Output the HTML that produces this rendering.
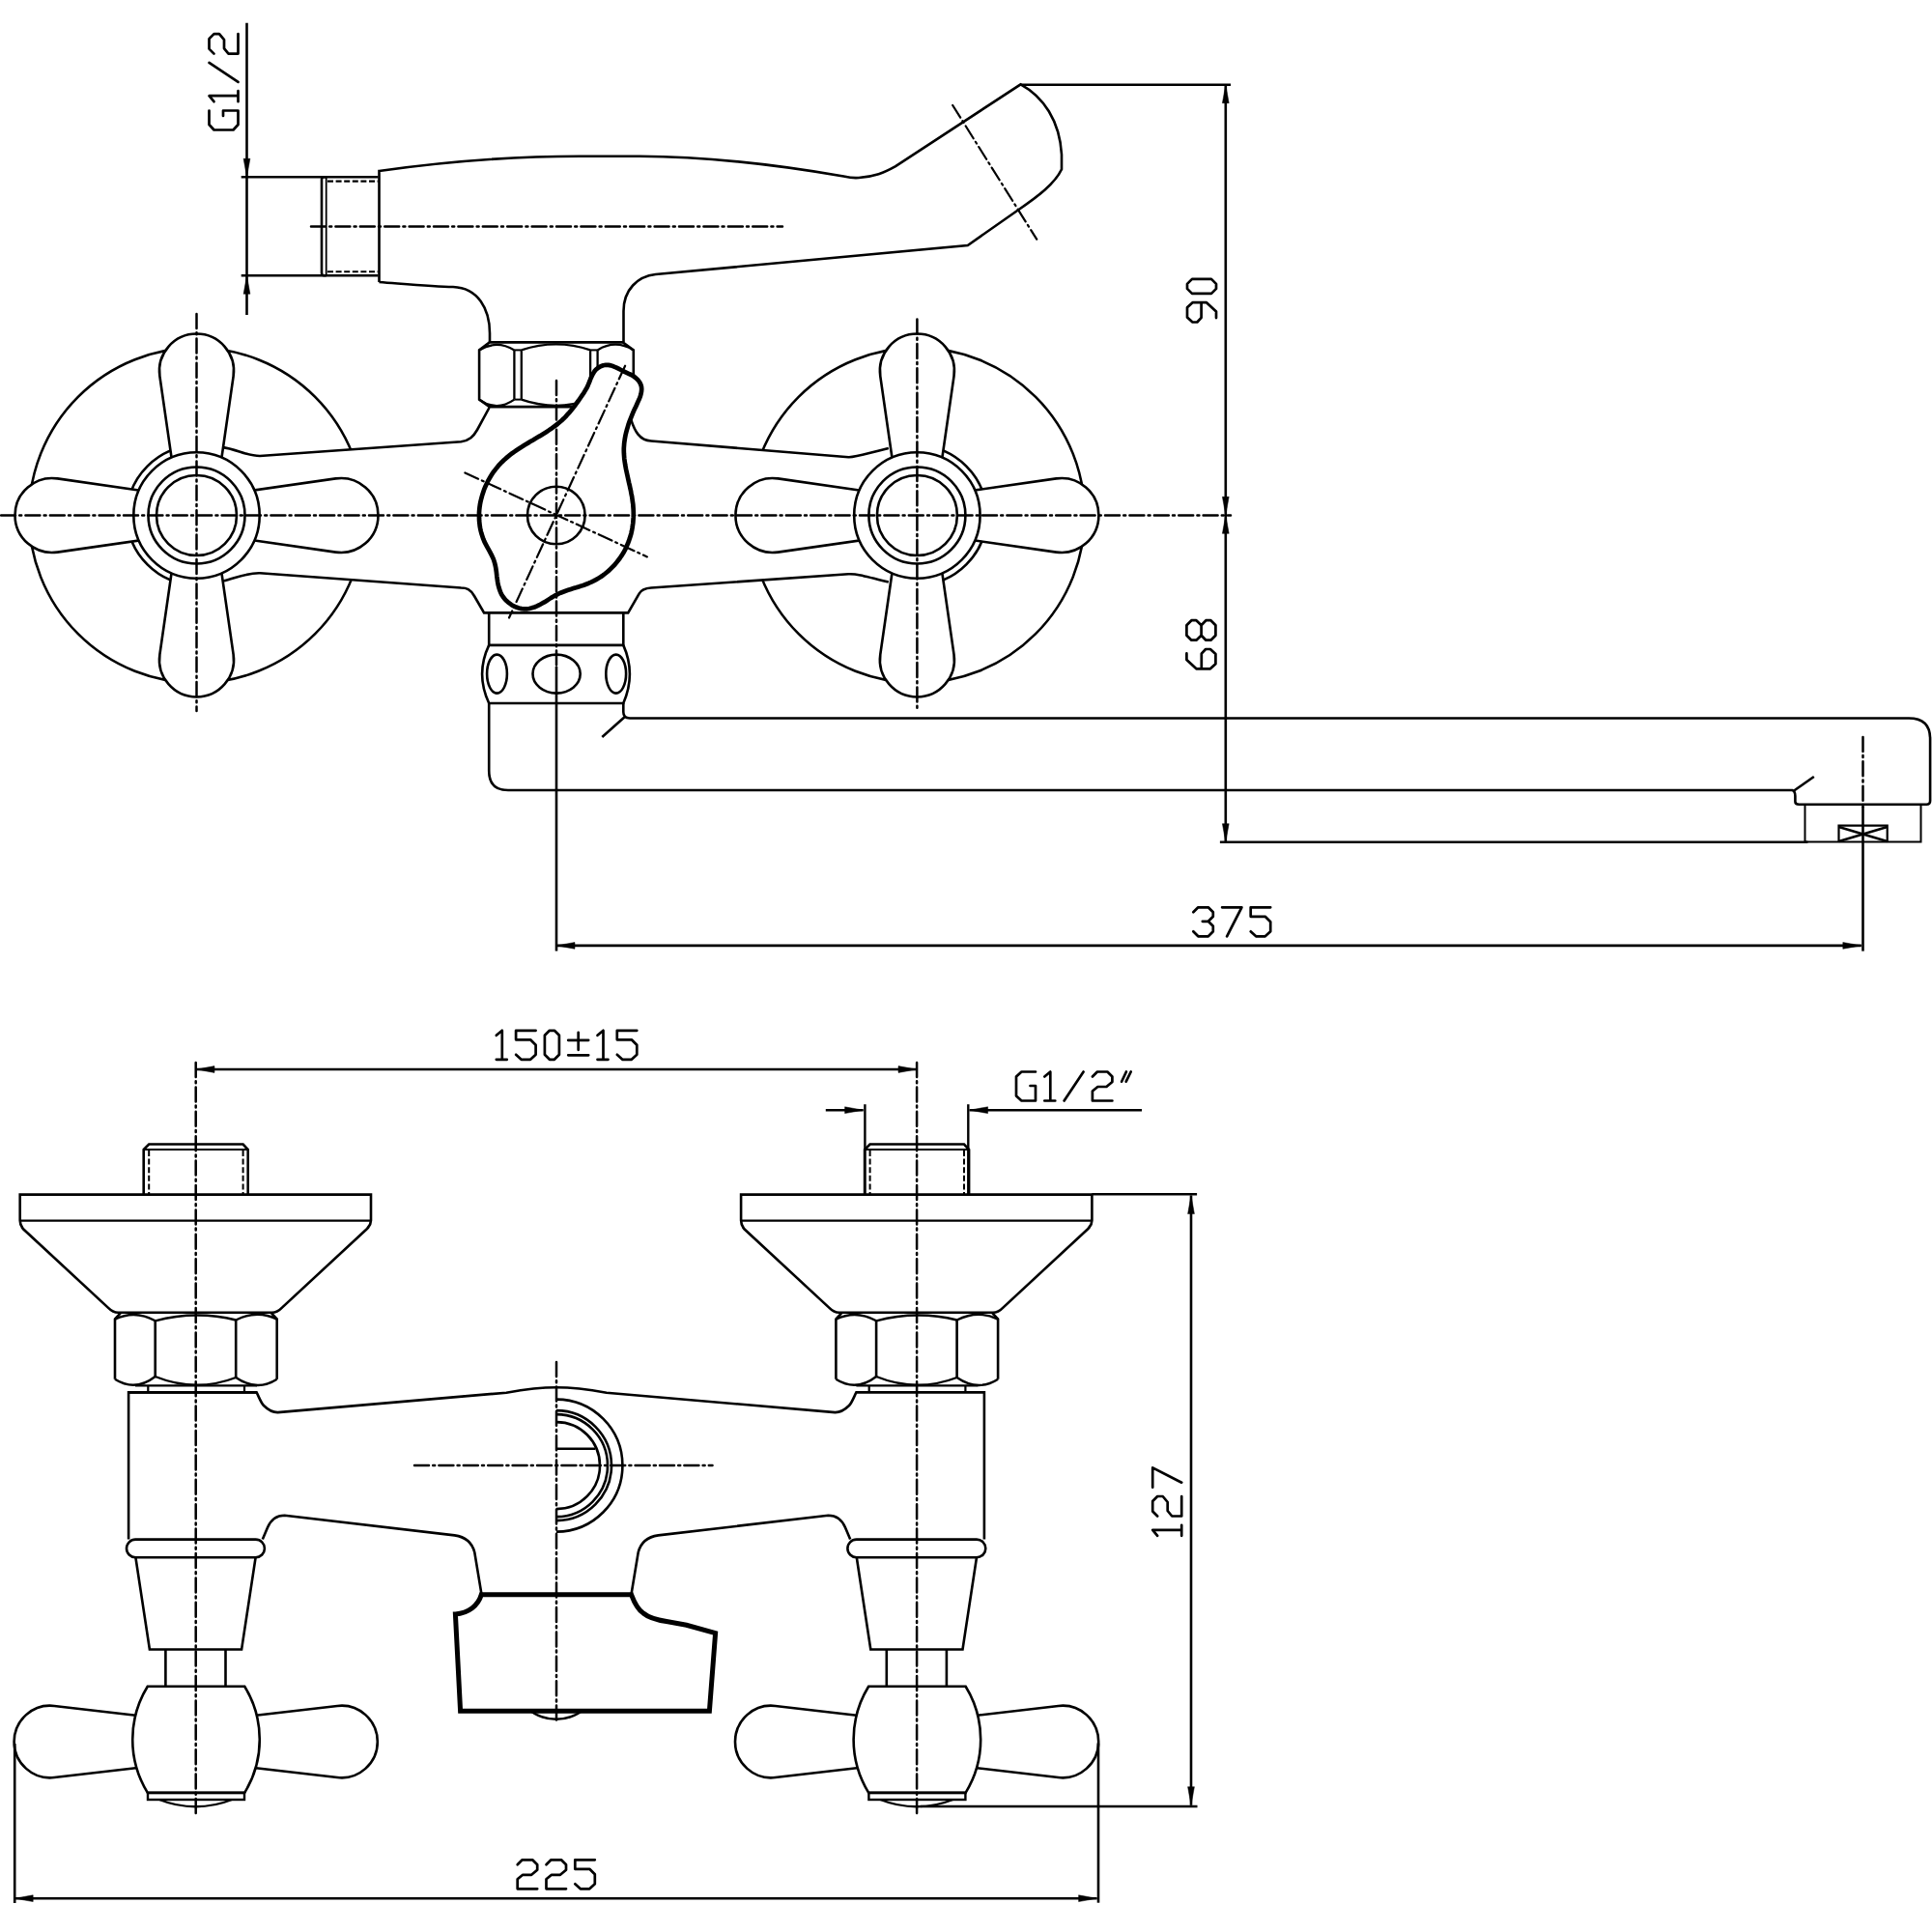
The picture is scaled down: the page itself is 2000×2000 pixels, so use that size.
<!DOCTYPE html><html><head><meta charset="utf-8"><style>html,body{margin:0;padding:0;background:#fff;font-family:"Liberation Sans",sans-serif;width:2000px;height:2000px;overflow:hidden;}svg{display:block;}</style></head><body><svg width="2000" height="2000" viewBox="0 0 2000 2000" stroke-linecap="butt" stroke-linejoin="miter" stroke-miterlimit="4"><circle cx="203.5" cy="533.5" r="173.5" fill="none" stroke="#000" stroke-width="2.6"/>
<circle cx="949.4" cy="533.5" r="173.5" fill="none" stroke="#000" stroke-width="2.6"/>
<circle cx="203.5" cy="533.5" r="72.0" fill="none" stroke="#000" stroke-width="2.6"/>
<circle cx="949.4" cy="533.5" r="72.0" fill="none" stroke="#000" stroke-width="2.6"/>
<path d="M203,470 L229.8,462.9 C245,465 255,472 269,472 L477.3,457.3 C486,456 490,452 494,445 L506.5,422 L648,422 L653.3,434.6 C657,446 662,456 674,456.5 L878.4,473.2 C886,473.5 890,471.5 919.8,463.9 L949,470 L949,600 L919.8,602.6 C890,595 886,594 878.4,594.3 L674,608.5 C666,609 663,612 661.6,614.7 L650.2,634.4 L501.1,634.4 L491,617 C487,610 483,608.5 477.3,608.5 L269,593.3 C255,593 245,598 230.8,601.6 L203,600 Z" fill="#fff" stroke="none"/>
<path d="M229.8,462.9 C245,465 255,472 269,472 L477.3,457.3 C486,456 490,452 494,445 L506.5,422" fill="none" stroke="#000" stroke-width="2.6" />
<path d="M653.3,434.6 C657,446 662,456 674,456.5 L878.4,473.2 C886,473.5 890,471.5 919.8,463.9" fill="none" stroke="#000" stroke-width="2.6" />
<path d="M919.8,602.6 C890,595 886,594 878.4,594.3 L674,608.5 C666,609 663,612 661.6,614.7 L650.2,634.4 L501.1,634.4 L491,617 C487,610 483,608.5 477.3,608.5 L269,593.3 C255,593 245,598 230.8,601.6" fill="none" stroke="#000" stroke-width="2.6" />
<path d="M263.50,559.50 L347.51,571.61 A38.5,38.5 0 1 0 347.51,495.39 L263.50,507.50 Z" fill="#fff" stroke="#000" stroke-width="2.6"/>
<path d="M177.50,593.50 L165.39,677.51 A38.5,38.5 0 1 0 241.61,677.51 L229.50,593.50 Z" fill="#fff" stroke="#000" stroke-width="2.6"/>
<path d="M143.50,507.50 L59.49,495.39 A38.5,38.5 0 1 0 59.49,571.61 L143.50,559.50 Z" fill="#fff" stroke="#000" stroke-width="2.6"/>
<path d="M229.50,473.50 L241.61,389.49 A38.5,38.5 0 1 0 165.39,389.49 L177.50,473.50 Z" fill="#fff" stroke="#000" stroke-width="2.6"/>
<circle cx="203.5" cy="533.5" r="65.2" fill="#fff" stroke="#000" stroke-width="2.6"/>
<circle cx="203.5" cy="533.5" r="50.0" fill="none" stroke="#000" stroke-width="2.6"/>
<circle cx="203.5" cy="533.5" r="41.5" fill="none" stroke="#000" stroke-width="2.6"/>
<path d="M1009.40,559.50 L1093.41,571.61 A38.5,38.5 0 1 0 1093.41,495.39 L1009.40,507.50 Z" fill="#fff" stroke="#000" stroke-width="2.6"/>
<path d="M923.40,593.50 L911.29,677.51 A38.5,38.5 0 1 0 987.51,677.51 L975.40,593.50 Z" fill="#fff" stroke="#000" stroke-width="2.6"/>
<path d="M889.40,507.50 L805.39,495.39 A38.5,38.5 0 1 0 805.39,571.61 L889.40,559.50 Z" fill="#fff" stroke="#000" stroke-width="2.6"/>
<path d="M975.40,473.50 L987.51,389.49 A38.5,38.5 0 1 0 911.29,389.49 L923.40,473.50 Z" fill="#fff" stroke="#000" stroke-width="2.6"/>
<circle cx="949.4" cy="533.5" r="65.2" fill="#fff" stroke="#000" stroke-width="2.6"/>
<circle cx="949.4" cy="533.5" r="50.0" fill="none" stroke="#000" stroke-width="2.6"/>
<circle cx="949.4" cy="533.5" r="41.5" fill="none" stroke="#000" stroke-width="2.6"/>
<path d="M392.5,177 C470,166 540,161.8 600,161.8 L662,161.8 C720,162 790,168 873.3,182.5 C880,184 884,184.5 889,184 C905,183 915,179 927.1,172.2 L1056.6,87.3 C1080,100 1097,125 1099,160 L1099,175.3 C1092,190 1075,203 1053.5,217.7 L1001.8,254 L678.7,284 C660,286 645.5,300 645.5,322 L645.5,354 L507,354 L507,345 C507,320 495,298 469,297 L392.5,292 Z" fill="#fff" stroke="none"/>
<path d="M392.5,292 L392.5,177 C470,166 540,161.8 600,161.8 L662,161.8 C720,162 790,168 873.3,182.5 C880,184 884,184.5 889,184 C905,183 915,179 927.1,172.2 L1056.6,87.3 C1080,100 1097,125 1099,160 L1099,175.3 C1092,190 1075,203 1053.5,217.7 L1001.8,254 L678.7,284 C660,286 645.5,300 645.5,322 L645.5,354" fill="none" stroke="#000" stroke-width="2.6" />
<path d="M392.5,292 C430,295 450,297 469,297 C495,298 507,320 507,345 L507,354" fill="none" stroke="#000" stroke-width="2.6" />
<line x1="249.7" y1="183.2" x2="391.5" y2="183.2" stroke="#000" stroke-width="2.6" />
<line x1="249.7" y1="285.3" x2="391.5" y2="285.3" stroke="#000" stroke-width="2.6" />
<path d="M337.7,183.2 L335,183.2 Q333,183.2 333,186 L333,282.5 Q333,285.3 335.5,285.3 L337.7,285.3" fill="none" stroke="#000" stroke-width="2.6" />
<line x1="337.7" y1="183.2" x2="337.7" y2="285.3" stroke="#000" stroke-width="1.8" />
<line x1="339.0" y1="187.6" x2="391.5" y2="187.6" stroke="#000" stroke-width="2.1" stroke-dasharray="6 2.6"/>
<line x1="339.0" y1="281.2" x2="391.5" y2="281.2" stroke="#000" stroke-width="2.1" stroke-dasharray="6 2.6"/>
<line x1="322.0" y1="234.5" x2="810.0" y2="234.5" stroke="#000" stroke-width="2.5" stroke-dasharray="15 4.2 2 4.2" stroke-linecap="round"/>
<line x1="986.2" y1="109.0" x2="1073.2" y2="247.7" stroke="#000" stroke-width="2.2" stroke-dasharray="15 4.2 2 4.2" stroke-linecap="round"/>
<path d="M506.8,354.4 L644.7,354.4 L655.8,362.4 L655.8,413.6 L644.7,421.1 L506.8,421.1 L496.1,413.6 L496.1,362.4 Z" fill="#fff" stroke="none"/>
<path d="M506.8,354.4 L644.7,354.4 L655.8,362.4 L655.8,413.6 L644.7,421.1 L506.8,421.1 L496.1,413.6 L496.1,362.4 Z" fill="none" stroke="#000" stroke-width="2.6" />
<path d="M496.1,362.4 Q514,351.5 532.4,362.4 M532.4,362.4 L532.4,413.6 M539.8,362.4 L539.8,413.6 M539.8,362.4 Q575.7,350.5 611.1,362.4 M611.1,362.4 L611.1,413.6 M618.6,362.4 L618.6,413.6 M618.6,362.4 Q637,351 655.8,362.4" fill="none" stroke="#000" stroke-width="2.3" />
<path d="M496.1,413.6 Q514,426.5 532.4,413.6 M539.8,413.6 Q575.7,426 611.1,413.6 M618.6,413.6 Q637,426 655.8,413.6" fill="none" stroke="#000" stroke-width="2.3" />
<line x1="532.4" y1="362.4" x2="539.8" y2="362.4" stroke="#000" stroke-width="2" />
<line x1="532.4" y1="413.6" x2="539.8" y2="413.6" stroke="#000" stroke-width="2" />
<line x1="611.1" y1="362.4" x2="618.6" y2="362.4" stroke="#000" stroke-width="2" />
<line x1="611.1" y1="413.6" x2="618.6" y2="413.6" stroke="#000" stroke-width="2" />
<path d="M506.2,634.4 L506.2,667.9 L645.3,667.9 L645.3,634.4" fill="none" stroke="#000" stroke-width="2.6" />
<path d="M506.2,667.9 Q492,697.6 506.2,728 L645.3,728 Q658.5,697.6 645.3,667.9" fill="none" stroke="#000" stroke-width="2.6" />
<ellipse cx="514.5" cy="697.6" rx="10.4" ry="20" fill="none" stroke="#000" stroke-width="2.6"/>
<ellipse cx="576.1" cy="697.6" rx="24.6" ry="20" fill="none" stroke="#000" stroke-width="2.6"/>
<ellipse cx="637.7" cy="697.6" rx="10.4" ry="20" fill="none" stroke="#000" stroke-width="2.6"/>
<path d="M506.2,728 L506.2,798 Q506.2,818 526,818 L1855.3,818 Q1858.4,819 1858.4,824 L1858.4,829.7 Q1858.4,832.8 1862.3,832.8 L1994.3,832.8 Q1998.1,832.8 1998.1,829 L1998.1,765 Q1998.1,743.5 1976,743.5 L652,743.5 Q645.3,743.5 645.3,737 L645.3,728" fill="none" stroke="#000" stroke-width="2.6" />
<line x1="646.6" y1="742.3" x2="623.3" y2="763.0" stroke="#000" stroke-width="2.6" />
<line x1="1856.8" y1="818.8" x2="1877.8" y2="804.0" stroke="#000" stroke-width="2.6" />
<path d="M1868.5,832.8 L1868.5,871.6 L1988.5,871.6 L1988.5,832.8" fill="none" stroke="#000" stroke-width="2.0" />
<path d="M1903.5,871.6 L1903.5,854.7 L1953.7,854.7 L1953.7,871.6" fill="none" stroke="#000" stroke-width="2.2" />
<path d="M1903.5,856 L1953.7,871 M1903.5,871 L1953.7,856" fill="none" stroke="#000" stroke-width="2.6" />
<path d="M627.2,377.8 L629.8,377.9 L632.5,378.4 L635.1,379.3 L637.7,380.4 L640.3,381.7 L642.9,383.0 L645.5,384.3 L648.2,385.6 L650.8,386.8 L653.4,388.0 L655.9,389.5 L658.3,391.3 L660.4,393.4 L662.1,395.6 L663.3,398.0 L664.0,400.4 L664.2,402.8 L664.0,405.3 L663.5,407.9 L662.8,410.4 L661.8,413.0 L660.6,415.6 L659.4,418.3 L658.2,420.9 L656.9,423.6 L655.7,426.2 L654.6,428.9 L653.5,431.6 L652.4,434.3 L651.4,436.9 L650.5,439.6 L649.7,442.3 L648.9,445.0 L648.2,447.7 L647.5,450.5 L647.0,453.2 L646.6,455.9 L646.2,458.6 L646.0,461.3 L645.8,464.1 L645.8,466.8 L645.9,469.5 L646.1,472.3 L646.3,475.0 L646.7,477.8 L647.1,480.5 L647.6,483.3 L648.1,486.0 L648.7,488.8 L649.3,491.5 L649.9,494.3 L650.5,497.1 L651.1,499.8 L651.8,502.6 L652.4,505.4 L653.0,508.1 L653.5,510.9 L654.1,513.7 L654.5,516.5 L654.9,519.3 L655.3,522.0 L655.5,524.8 L655.7,527.6 L655.8,530.4 L655.8,533.2 L655.7,535.9 L655.5,538.7 L655.3,541.5 L654.9,544.2 L654.5,546.9 L654.0,549.6 L653.4,552.3 L652.6,555.0 L651.8,557.6 L650.9,560.2 L649.9,562.8 L648.8,565.3 L647.7,567.9 L646.4,570.3 L645.0,572.8 L643.5,575.2 L641.9,577.5 L640.2,579.8 L638.4,582.1 L636.6,584.3 L634.6,586.4 L632.6,588.4 L630.6,590.4 L628.4,592.2 L626.2,594.0 L624.0,595.7 L621.7,597.3 L619.3,598.7 L616.9,600.1 L614.5,601.4 L612.0,602.6 L609.5,603.7 L606.9,604.7 L604.3,605.7 L601.7,606.6 L599.0,607.4 L596.3,608.3 L593.6,609.1 L590.9,609.9 L588.2,610.8 L585.5,611.7 L582.9,612.7 L580.3,613.7 L577.8,614.8 L575.3,616.1 L572.9,617.5 L570.5,618.9 L568.2,620.4 L565.8,621.9 L563.4,623.4 L560.9,624.8 L558.4,626.2 L555.9,627.4 L553.3,628.5 L550.6,629.3 L548.0,630.0 L545.3,630.4 L542.6,630.4 L539.9,630.1 L537.1,629.5 L534.4,628.6 L531.8,627.4 L529.3,625.9 L526.9,624.2 L524.7,622.3 L522.7,620.3 L520.9,618.0 L519.4,615.7 L518.2,613.2 L517.2,610.6 L516.4,608.0 L515.7,605.3 L515.2,602.6 L514.8,599.8 L514.4,597.1 L514.1,594.3 L513.8,591.6 L513.4,588.8 L512.9,586.1 L512.3,583.5 L511.5,580.8 L510.6,578.2 L509.4,575.7 L508.1,573.2 L506.8,570.7 L505.4,568.2 L504.0,565.6 L502.7,563.1 L501.4,560.6 L500.3,557.9 L499.4,555.3 L498.5,552.6 L497.8,550.0 L497.2,547.2 L496.7,544.5 L496.4,541.7 L496.1,539.0 L496.0,536.2 L496.0,533.4 L496.0,530.6 L496.2,527.9 L496.5,525.1 L496.9,522.3 L497.4,519.6 L498.1,516.8 L498.8,514.1 L499.6,511.4 L500.5,508.7 L501.4,506.1 L502.5,503.5 L503.7,500.9 L504.9,498.4 L506.3,495.9 L507.7,493.5 L509.2,491.1 L510.7,488.8 L512.4,486.6 L514.1,484.4 L515.9,482.2 L517.8,480.2 L519.7,478.2 L521.7,476.3 L523.8,474.4 L525.9,472.6 L528.0,470.9 L530.2,469.2 L532.5,467.6 L534.8,466.0 L537.1,464.5 L539.5,463.0 L541.8,461.5 L544.2,460.0 L546.6,458.6 L549.1,457.1 L551.5,455.7 L553.9,454.2 L556.3,452.8 L558.7,451.4 L561.1,449.9 L563.5,448.4 L565.9,446.9 L568.2,445.4 L570.6,443.8 L572.8,442.2 L575.1,440.5 L577.3,438.8 L579.4,437.0 L581.5,435.2 L583.5,433.3 L585.5,431.3 L587.4,429.2 L589.3,427.1 L591.1,425.0 L592.9,422.8 L594.6,420.6 L596.2,418.3 L597.9,416.0 L599.5,413.8 L601.1,411.5 L602.7,409.2 L604.2,407.0 L605.6,404.6 L607.0,402.3 L608.3,399.8 L609.4,397.2 L610.5,394.5 L611.5,391.8 L612.7,389.2 L614.0,386.7 L615.4,384.4 L617.2,382.3 L619.4,380.6 L621.8,379.2 L624.5,378.3 Z" fill="#fff" stroke="#000" stroke-width="4.7" stroke-linejoin="round"/>
<circle cx="575.8" cy="533.5" r="29.8" fill="none" stroke="#000" stroke-width="2.6"/>
<line x1="481.4" y1="489.4" x2="669.9" y2="576.4" stroke="#000" stroke-width="2.2" stroke-dasharray="15 4.2 2 4.2" stroke-linecap="round"/>
<line x1="647.1" y1="378.7" x2="527.0" y2="639.5" stroke="#000" stroke-width="2.2" stroke-dasharray="15 4.2 2 4.2" stroke-linecap="round"/>
<line x1="1.0" y1="533.5" x2="1274.0" y2="533.5" stroke="#000" stroke-width="2.5" stroke-dasharray="15 4.2 2 4.2" stroke-linecap="round"/>
<line x1="203.5" y1="325.0" x2="203.5" y2="736.0" stroke="#000" stroke-width="2.5" stroke-dasharray="15 4.2 2 4.2" stroke-linecap="round"/>
<line x1="949.4" y1="330.5" x2="949.4" y2="736.0" stroke="#000" stroke-width="2.5" stroke-dasharray="15 4.2 2 4.2" stroke-linecap="round"/>
<line x1="576.0" y1="394.0" x2="576.0" y2="690.0" stroke="#000" stroke-width="2.5" stroke-dasharray="15 4.2 2 4.2" stroke-linecap="round"/>
<line x1="576.0" y1="690.0" x2="576.0" y2="984.6" stroke="#000" stroke-width="2.6" />
<line x1="255.5" y1="23.8" x2="255.5" y2="326.0" stroke="#000" stroke-width="2.6" />
<path d="M255.5,183.2 L252.1,164.2 L258.9,164.2 Z" fill="#000" stroke="#000" stroke-width="0.5" stroke-linejoin="miter"/>
<path d="M255.5,285.3 L258.9,304.3 L252.1,304.3 Z" fill="#000" stroke="#000" stroke-width="0.5" stroke-linejoin="miter"/>
<g transform="translate(216.50,134.50) rotate(-90)" fill="none" stroke="#000" stroke-width="2.7" stroke-linecap="round" stroke-linejoin="round"><path transform="translate(0.00,0)" d="M20,0 H5.5 L0,5 V25 L5.5,30 H20 V14.5 H14.5"/><path transform="translate(29.30,0)" d="M0,5 L6,0 V30 M0,30 H11"/><path transform="translate(49.60,0)" d="M0,30 L20,0"/><path transform="translate(78.90,0)" d="M0,5 L5,0 H15.5 L20.5,5 V10.5 L14.5,15.5 H5.5 L0,20 V30 H20.5"/></g>
<line x1="1056.6" y1="87.7" x2="1274.0" y2="87.7" stroke="#000" stroke-width="2.6" />
<line x1="1268.8" y1="87.7" x2="1268.8" y2="871.7" stroke="#000" stroke-width="2.6" />
<path d="M1268.8,87.7 L1272.2,106.7 L1265.4,106.7 Z" fill="#000" stroke="#000" stroke-width="0.5" stroke-linejoin="miter"/>
<path d="M1268.8,533.3 L1265.4,514.3 L1272.2,514.3 Z" fill="#000" stroke="#000" stroke-width="0.5" stroke-linejoin="miter"/>
<g transform="translate(1229.00,333.50) rotate(-90)" fill="none" stroke="#000" stroke-width="2.7" stroke-linecap="round" stroke-linejoin="round"><path transform="translate(0.00,0)" d="M4.4,30 H10.9 L20.3,20 V5.5 L15.2,0 H5.1 L0,5.5 V10.3 L4.7,14.6 H20.3"/><path transform="translate(29.60,0)" d="M5,0 H10 L15,5 V25 L10,30 H5 L0,25 V5 Z"/></g>
<path d="M1268.8,533.3 L1272.2,552.3 L1265.4,552.3 Z" fill="#000" stroke="#000" stroke-width="0.5" stroke-linejoin="miter"/>
<path d="M1268.8,871.7 L1265.4,852.7 L1272.2,852.7 Z" fill="#000" stroke="#000" stroke-width="0.5" stroke-linejoin="miter"/>
<line x1="1262.9" y1="871.7" x2="1871.4" y2="871.7" stroke="#000" stroke-width="2.6" />
<g transform="translate(1228.40,692.30) rotate(-90)" fill="none" stroke="#000" stroke-width="2.7" stroke-linecap="round" stroke-linejoin="round"><path transform="translate(0.00,0)" d="M15.9,0 H9.4 L0,10 V24.5 L5.1,30 H15.2 L20.3,24.5 V19.7 L15.6,15.4 H0"/><path transform="translate(29.60,0)" d="M5,0 H15.5 L20.5,5 V10 L15.5,15.2 H5 L0,10 V5 Z M15.5,15.2 L20.5,20 V25 L15.5,30 H5 L0,25 V20 L5,15.2"/></g>
<line x1="576.0" y1="978.9" x2="1926.8" y2="978.9" stroke="#000" stroke-width="2.6" />
<path d="M576.0,978.9 L595.0,975.5 L595.0,982.3 Z" fill="#000" stroke="#000" stroke-width="0.5" stroke-linejoin="miter"/>
<path d="M1926.8,978.9 L1907.8,982.3 L1907.8,975.5 Z" fill="#000" stroke="#000" stroke-width="0.5" stroke-linejoin="miter"/>
<line x1="1928.5" y1="762.9" x2="1928.5" y2="835.0" stroke="#000" stroke-width="2.5" stroke-dasharray="15 4.2 2 4.2" stroke-linecap="round"/>
<line x1="1928.5" y1="835.0" x2="1928.5" y2="984.6" stroke="#000" stroke-width="2.6" />
<g transform="translate(1235.30,939.30)" fill="none" stroke="#000" stroke-width="2.7" stroke-linecap="round" stroke-linejoin="round"><path transform="translate(0.00,0)" d="M0,5 L5,0 H15.5 L20.5,5 V9.5 L15.5,14.5 H9.5 M15.5,14.5 L20.5,19.5 V25 L15.5,30 H5 L0,25"/><path transform="translate(29.80,0)" d="M0,0 H20.3 L5,30"/><path transform="translate(59.40,0)" d="M20.5,0 H0 V9.5 H15 L20.5,15 V25 L15,30 H5.5 L0,25"/></g>
<path d="M148.7,1236.6 L148.7,1190 L154.2,1184.5 L251.6,1184.5 L256.7,1190 L256.7,1236.6" fill="none" stroke="#000" stroke-width="2.6" />
<line x1="148.7" y1="1190.0" x2="256.7" y2="1190.0" stroke="#000" stroke-width="2.2" />
<line x1="154.2" y1="1191.0" x2="154.2" y2="1236.0" stroke="#000" stroke-width="2.0" stroke-dasharray="6 2.6"/>
<line x1="251.6" y1="1191.0" x2="251.6" y2="1236.0" stroke="#000" stroke-width="2.0" stroke-dasharray="6 2.6"/>
<path d="M20.7,1236.6 L384.0,1236.6 L384.0,1263.6 Q384.0,1268 380.0,1272 L292.0,1353.6 Q287.0,1358.8 281.6,1358.8 L122.2,1358.8 Q117.0,1358.8 111.8,1353.6 L23.8,1272 Q20.7,1268 20.7,1263.6 Z" fill="none" stroke="#000" stroke-width="2.6" />
<line x1="20.7" y1="1263.6" x2="384.0" y2="1263.6" stroke="#000" stroke-width="2.4" />
<path d="M124.7,1359.4 L119.0,1365.6 L119.0,1427.7 M281.0,1359.4 L286.7,1365.6 L286.7,1427.7" fill="none" stroke="#000" stroke-width="2.6" />
<path d="M160.7,1367.3 L160.7,1425 M244.2,1366.5 L244.2,1426" fill="none" stroke="#000" stroke-width="2.6" />
<path d="M119.0,1365.6 Q140.0,1355.5 160.7,1367.3 Q202.7,1356 244.2,1366.5 Q266.0,1355.5 286.7,1365.6" fill="none" stroke="#000" stroke-width="2.4" />
<path d="M119.0,1427.7 Q140.0,1441 160.7,1425 Q202.7,1442 244.2,1426 Q266.0,1441 286.7,1427.7" fill="none" stroke="#000" stroke-width="2.4" />
<line x1="140.0" y1="1434.3" x2="266.0" y2="1434.3" stroke="#000" stroke-width="2.2" />
<path d="M153.3,1434.3 L153.3,1441.4 M253.0,1434.3 L253.0,1441.4" fill="none" stroke="#000" stroke-width="2.2" />
<path d="M895.1,1236.6 L895.1,1190 L900.6,1184.5 L998.0,1184.5 L1003.1,1190 L1003.1,1236.6" fill="none" stroke="#000" stroke-width="2.6" />
<line x1="895.1" y1="1190.0" x2="1003.1" y2="1190.0" stroke="#000" stroke-width="2.2" />
<line x1="900.6" y1="1191.0" x2="900.6" y2="1236.0" stroke="#000" stroke-width="2.0" stroke-dasharray="6 2.6"/>
<line x1="998.0" y1="1191.0" x2="998.0" y2="1236.0" stroke="#000" stroke-width="2.0" stroke-dasharray="6 2.6"/>
<path d="M767.1,1236.6 L1130.4,1236.6 L1130.4,1263.6 Q1130.4,1268 1126.4,1272 L1038.4,1353.6 Q1033.4,1358.8 1028.0,1358.8 L868.6,1358.8 Q863.4,1358.8 858.2,1353.6 L770.2,1272 Q767.1,1268 767.1,1263.6 Z" fill="none" stroke="#000" stroke-width="2.6" />
<line x1="767.1" y1="1263.6" x2="1130.4" y2="1263.6" stroke="#000" stroke-width="2.4" />
<path d="M871.1,1359.4 L865.4,1365.6 L865.4,1427.7 M1027.4,1359.4 L1033.1,1365.6 L1033.1,1427.7" fill="none" stroke="#000" stroke-width="2.6" />
<path d="M907.1,1367.3 L907.1,1425 M990.6,1366.5 L990.6,1426" fill="none" stroke="#000" stroke-width="2.6" />
<path d="M865.4,1365.6 Q886.4,1355.5 907.1,1367.3 Q949.1,1356 990.6,1366.5 Q1012.4,1355.5 1033.1,1365.6" fill="none" stroke="#000" stroke-width="2.4" />
<path d="M865.4,1427.7 Q886.4,1441 907.1,1425 Q949.1,1442 990.6,1426 Q1012.4,1441 1033.1,1427.7" fill="none" stroke="#000" stroke-width="2.4" />
<line x1="886.4" y1="1434.3" x2="1012.4" y2="1434.3" stroke="#000" stroke-width="2.2" />
<path d="M899.7,1434.3 L899.7,1441.4 M999.4,1434.3 L999.4,1441.4" fill="none" stroke="#000" stroke-width="2.2" />
<path d="M133.1,1593.6 L133.1,1441.4 L265.6,1441.4 C268,1446 270,1452 273,1455 C278,1460 282,1462.1 287.4,1462.1 L524.2,1441.7 C545,1438 560,1436.3 576,1436.3" fill="none" stroke="#000" stroke-width="2.6" />
<path d="M 1018.9 1593.6 L 1018.9 1441.4 L 886.4 1441.4 C 884.0 1446.0 882.0 1452.0 879.0 1455.0 C 874.0 1460.0 870.0 1462.1 864.6 1462.1 L 627.8 1441.7 C 607.0 1438.0 592.0 1436.3 576.0 1436.3" fill="none" stroke="#000" stroke-width="2.6" />
<path d="M271.8,1593.6 L277,1581.2 C281,1572 287,1568.7 294.6,1568.7 L470.6,1589.4 C482,1591 489,1598 491.3,1607 L498.3,1649.2" fill="none" stroke="#000" stroke-width="2.6" />
<path d="M 880.2 1593.6 L 875.0 1581.2 C 871.0 1572.0 865.0 1568.7 857.4 1568.7 L 681.4 1589.4 C 670.0 1591.0 663.0 1598.0 660.7 1607.0 L 653.7 1649.2" fill="none" stroke="#000" stroke-width="2.6" />
<line x1="133.1" y1="1441.4" x2="265.6" y2="1441.4" stroke="#000" stroke-width="2.6" />
<rect x="131.0" y="1593.6" width="142.9" height="18.6" rx="9.3" ry="9.3" fill="#fff" stroke="#000" stroke-width="2.6"/>
<path d="M140.4,1612.2 L154.9,1707.5 L250.1,1707.5 L264.6,1612.2" fill="none" stroke="#000" stroke-width="2.6" />
<path d="M171.4,1707.5 L171.4,1745.8 M233.5,1707.5 L233.5,1745.8" fill="none" stroke="#000" stroke-width="2.6" />
<path d="M142.70,1830.00 L56.21,1840.05 A37.3,37.3 0 1 1 56.21,1765.95 L142.70,1776.00" fill="none" stroke="#000" stroke-width="2.6" />
<path d="M262.70,1830.00 L349.19,1840.05 A37.3,37.3 0 1 0 349.19,1765.95 L262.70,1776.00" fill="none" stroke="#000" stroke-width="2.6" />
<path d="M152.8,1745.8 L253.2,1745.8 A105,105 0 0 1 253.2,1855.9 L152.8,1855.9 A105,105 0 0 1 152.8,1745.8 Z" fill="#fff" stroke="#000" stroke-width="2.6" />
<rect x="153.0" y="1855.9" width="100" height="7.1" fill="none" stroke="#000" stroke-width="2.4"/>
<path d="M165.0,1863 A101,101 0 0 0 240.0,1863" fill="none" stroke="#000" stroke-width="2.4" />
<line x1="202.7" y1="1100.0" x2="202.7" y2="1880.0" stroke="#000" stroke-width="2.5" stroke-dasharray="15 4.2 2 4.2" stroke-linecap="round"/>
<rect x="877.4" y="1593.6" width="142.9" height="18.6" rx="9.3" ry="9.3" fill="#fff" stroke="#000" stroke-width="2.6"/>
<path d="M886.8,1612.2 L901.3,1707.5 L996.5,1707.5 L1011.0,1612.2" fill="none" stroke="#000" stroke-width="2.6" />
<path d="M917.8,1707.5 L917.8,1745.8 M979.9,1707.5 L979.9,1745.8" fill="none" stroke="#000" stroke-width="2.6" />
<path d="M889.10,1830.00 L802.61,1840.05 A37.3,37.3 0 1 1 802.61,1765.95 L889.10,1776.00" fill="none" stroke="#000" stroke-width="2.6" />
<path d="M1009.10,1830.00 L1095.59,1840.05 A37.3,37.3 0 1 0 1095.59,1765.95 L1009.10,1776.00" fill="none" stroke="#000" stroke-width="2.6" />
<path d="M899.2,1745.8 L999.6,1745.8 A105,105 0 0 1 999.6,1855.9 L899.2,1855.9 A105,105 0 0 1 899.2,1745.8 Z" fill="#fff" stroke="#000" stroke-width="2.6" />
<rect x="899.4" y="1855.9" width="100" height="7.1" fill="none" stroke="#000" stroke-width="2.4"/>
<path d="M911.4,1863 A101,101 0 0 0 986.4,1863" fill="none" stroke="#000" stroke-width="2.4" />
<line x1="949.1" y1="1100.0" x2="949.1" y2="1880.0" stroke="#000" stroke-width="2.5" stroke-dasharray="15 4.2 2 4.2" stroke-linecap="round"/>
<path d="M576,1448.6 A68.5,68.5 0 0 1 576,1585.6" fill="none" stroke="#000" stroke-width="2.6" />
<path d="M576,1460.1 A57,57 0 0 1 576,1574.1" fill="none" stroke="#000" stroke-width="2.6" />
<path d="M576,1464.1 A53,53 0 0 1 576,1570.1" fill="none" stroke="#000" stroke-width="2.6" />
<path d="M576,1472.1 A45,45 0 0 1 576,1562.1" fill="none" stroke="#000" stroke-width="2.6" />
<line x1="576.0" y1="1499.7" x2="616.4" y2="1499.7" stroke="#000" stroke-width="2.4" />
<line x1="429.0" y1="1517.1" x2="737.5" y2="1517.1" stroke="#000" stroke-width="2.5" stroke-dasharray="15 4.2 2 4.2" stroke-linecap="round"/>
<line x1="576.0" y1="1410.0" x2="576.0" y2="1784.0" stroke="#000" stroke-width="2.5" stroke-dasharray="15 4.2 2 4.2" stroke-linecap="round"/>
<path d="M498.3,1650.8 L653.6,1650.8 C657,1660 660,1666 666,1670 C672,1675 680,1677 690,1678.5 L710.6,1682.3 L740.6,1690.6 L734.4,1771.3 L476.6,1771.3 L471.4,1670.9 C485,1670 495,1662 498.3,1650.8 Z" fill="none" stroke="#000" stroke-width="5" stroke-linejoin="miter"/>
<path d="M549.3,1771.3 A45.5,45.5 0 0 0 602.3,1771.3" fill="none" stroke="#000" stroke-width="2.4" />
<line x1="203.0" y1="1107.0" x2="949.0" y2="1107.0" stroke="#000" stroke-width="2.6" />
<path d="M203.0,1107.0 L222.0,1103.6 L222.0,1110.4 Z" fill="#000" stroke="#000" stroke-width="0.5" stroke-linejoin="miter"/>
<path d="M949.0,1107.0 L930.0,1110.4 L930.0,1103.6 Z" fill="#000" stroke="#000" stroke-width="0.5" stroke-linejoin="miter"/>
<g transform="translate(513.80,1066.80)" fill="none" stroke="#000" stroke-width="2.7" stroke-linecap="round" stroke-linejoin="round"><path transform="translate(0.00,0)" d="M0,5 L6,0 V30 M0,30 H11"/><path transform="translate(20.30,0)" d="M20.5,0 H0 V9.5 H15 L20.5,15 V25 L15,30 H5.5 L0,25"/><path transform="translate(50.10,0)" d="M5,0 H10 L15,5 V25 L10,30 H5 L0,25 V5 Z"/><path transform="translate(74.40,0)" d="M0,10 H21 M10.5,2 V20 M0,25.5 H21"/><path transform="translate(104.70,0)" d="M0,5 L6,0 V30 M0,30 H11"/><path transform="translate(125.00,0)" d="M20.5,0 H0 V9.5 H15 L20.5,15 V25 L15,30 H5.5 L0,25"/></g>
<line x1="854.8" y1="1149.2" x2="893.6" y2="1149.2" stroke="#000" stroke-width="2.6" />
<path d="M893.6,1149.2 L874.6,1152.6 L874.6,1145.8 Z" fill="#000" stroke="#000" stroke-width="0.5" stroke-linejoin="miter"/>
<line x1="1003.6" y1="1149.2" x2="1182.0" y2="1149.2" stroke="#000" stroke-width="2.6" />
<path d="M1003.6,1149.2 L1022.6,1145.8 L1022.6,1152.6 Z" fill="#000" stroke="#000" stroke-width="0.5" stroke-linejoin="miter"/>
<line x1="895.4" y1="1143.2" x2="895.4" y2="1236.3" stroke="#000" stroke-width="2.4" />
<line x1="1002.3" y1="1143.2" x2="1002.3" y2="1236.3" stroke="#000" stroke-width="2.4" />
<g transform="translate(1052.00,1109.50)" fill="none" stroke="#000" stroke-width="2.7" stroke-linecap="round" stroke-linejoin="round"><path transform="translate(0.00,0)" d="M20,0 H5.5 L0,5 V25 L5.5,30 H20 V14.5 H14.5"/><path transform="translate(29.30,0)" d="M0,5 L6,0 V30 M0,30 H11"/><path transform="translate(49.60,0)" d="M0,30 L20,0"/><path transform="translate(78.90,0)" d="M0,5 L5,0 H15.5 L20.5,5 V10.5 L14.5,15.5 H5.5 L0,20 V30 H20.5"/><path transform="translate(108.70,0)" d="M0.4,10.2 L5.2,0 M5,10.2 L10,0"/></g>
<line x1="1130.4" y1="1236.3" x2="1239.1" y2="1236.3" stroke="#000" stroke-width="2.6" />
<line x1="952.7" y1="1870.0" x2="1239.5" y2="1870.0" stroke="#000" stroke-width="2.6" />
<line x1="1233.0" y1="1237.6" x2="1233.0" y2="1868.7" stroke="#000" stroke-width="2.6" />
<path d="M1233.0,1237.6 L1236.4,1256.6 L1229.6,1256.6 Z" fill="#000" stroke="#000" stroke-width="0.5" stroke-linejoin="miter"/>
<path d="M1233.0,1868.7 L1229.6,1849.7 L1236.4,1849.7 Z" fill="#000" stroke="#000" stroke-width="0.5" stroke-linejoin="miter"/>
<g transform="translate(1193.20,1589.80) rotate(-90)" fill="none" stroke="#000" stroke-width="2.7" stroke-linecap="round" stroke-linejoin="round"><path transform="translate(0.00,0)" d="M0,5 L6,0 V30 M0,30 H11"/><path transform="translate(20.30,0)" d="M0,5 L5,0 H15.5 L20.5,5 V10.5 L14.5,15.5 H5.5 L0,20 V30 H20.5"/><path transform="translate(50.10,0)" d="M0,0 H20.3 L5,30"/></g>
<line x1="15.2" y1="1965.2" x2="1135.6" y2="1965.2" stroke="#000" stroke-width="2.6" />
<path d="M15.2,1965.2 L34.2,1961.8 L34.2,1968.6 Z" fill="#000" stroke="#000" stroke-width="0.5" stroke-linejoin="miter"/>
<path d="M1135.6,1965.2 L1116.6,1968.6 L1116.6,1961.8 Z" fill="#000" stroke="#000" stroke-width="0.5" stroke-linejoin="miter"/>
<line x1="15.2" y1="1805.0" x2="15.2" y2="1970.0" stroke="#000" stroke-width="2.6" />
<line x1="1137.0" y1="1804.6" x2="1137.0" y2="1969.7" stroke="#000" stroke-width="2.6" />
<g transform="translate(535.70,1925.30)" fill="none" stroke="#000" stroke-width="2.7" stroke-linecap="round" stroke-linejoin="round"><path transform="translate(0.00,0)" d="M0,5 L5,0 H15.5 L20.5,5 V10.5 L14.5,15.5 H5.5 L0,20 V30 H20.5"/><path transform="translate(29.80,0)" d="M0,5 L5,0 H15.5 L20.5,5 V10.5 L14.5,15.5 H5.5 L0,20 V30 H20.5"/><path transform="translate(59.60,0)" d="M20.5,0 H0 V9.5 H15 L20.5,15 V25 L15,30 H5.5 L0,25"/></g></svg></body></html>
